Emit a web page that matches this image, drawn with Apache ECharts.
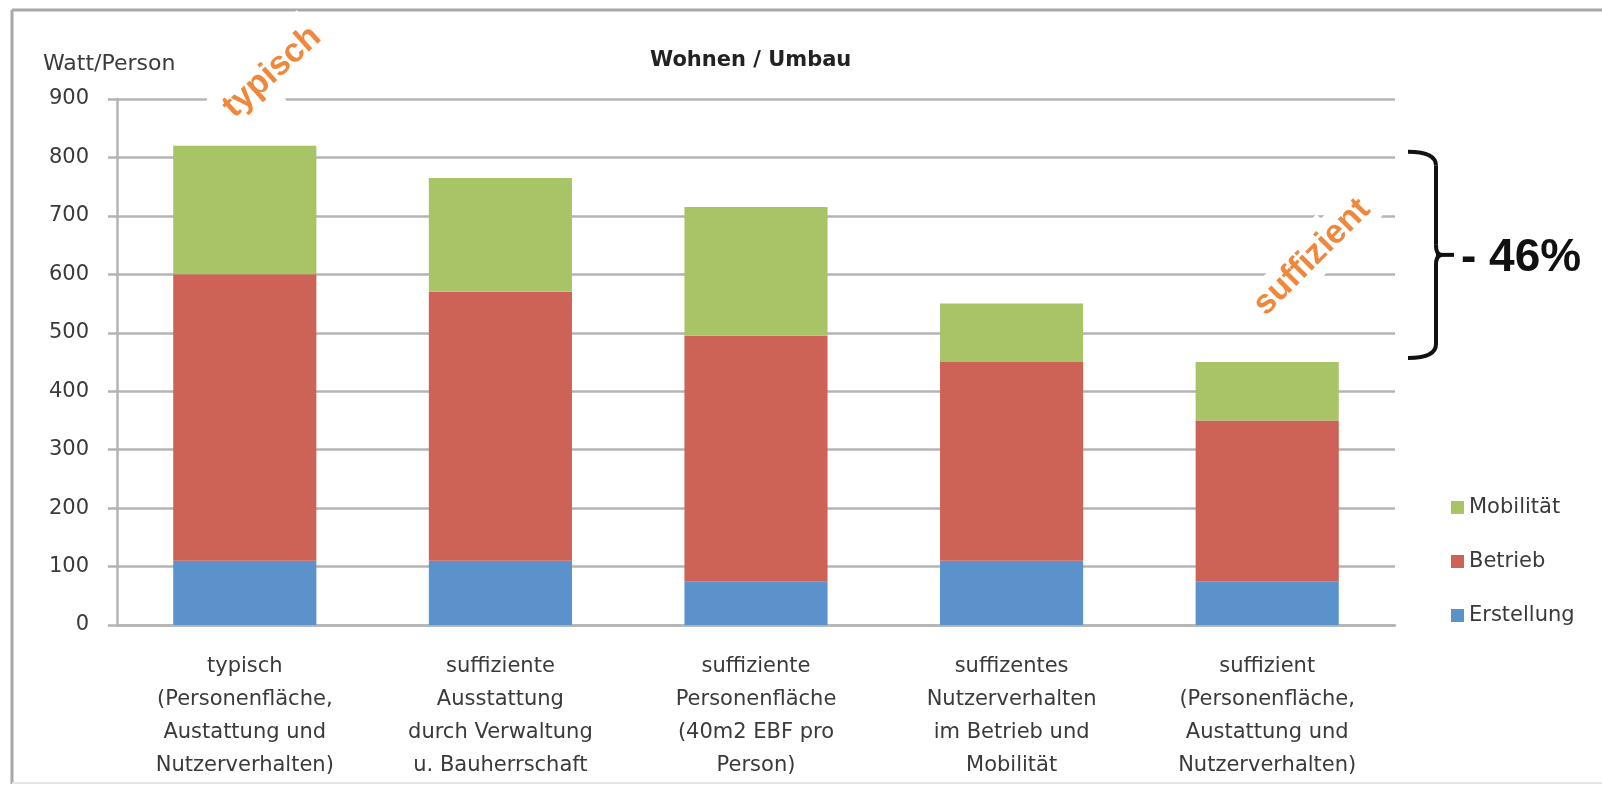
<!DOCTYPE html>
<html>
<head>
<meta charset="utf-8">
<script src="https://cdn.jsdelivr.net/npm/echarts@6/dist/echarts.min.js"></script>
<style>
  html, body { margin: 0; padding: 0; background: #fff; }
  #chart { width: 1602px; height: 785px; }
</style>
</head>
<body>
<div id="chart"></div>
<script>
// categories along the x axis
const categories = [
  'typisch\n(Personenfläche,\nAustattung und\nNutzerverhalten)',
  'suffiziente\nAusstattung\ndurch Verwaltung\nu. Bauherrschaft',
  'suffiziente\nPersonenfläche\n(40m2 EBF pro\nPerson)',
  'suffizentes\nNutzerverhalten\nim Betrieb und\nMobilität',
  'suffizient\n(Personenfläche,\nAustattung und\nNutzerverhalten)'
];
// stacked values, Watt/Person
const erstellung = [110, 110, 75, 110, 75];
const betrieb    = [490, 460, 420, 340, 275];
const mobilitaet = [220, 195, 220, 100, 100];
const yTicks = { min: 0, max: 900, interval: 100 };

const font = 'DejaVu Sans';
const textColor = '#3a3a3a';
const gridColor = '#b4b4b4';

let myChart = echarts.init(document.getElementById('chart'));

myChart.setOption({
  animation: false,
  backgroundColor: '#fff',
  title: [
    {
      text: 'Wohnen / Umbau',
      left: 645, top: 45,
      textStyle: { fontFamily: font, fontSize: 21, fontWeight: 'bold', color: '#222' }
    },
    {
      text: 'Watt/Person',
      left: 38, top: 48,
      textStyle: { fontFamily: font, fontSize: 22, fontWeight: 'normal', color: textColor }
    }
  ],
  legend: {
    orient: 'vertical',
    left: 1446, top: 492,
    itemWidth: 13, itemHeight: 13,
    itemGap: 33,
    icon: 'rect',
    data: ['Mobilität', 'Betrieb', 'Erstellung'],
    textStyle: { fontFamily: font, fontSize: 21, color: textColor, lineHeight: 21 }
  },
  grid: { left: 117, right: 207, top: 99, bottom: 160 },
  xAxis: {
    type: 'category',
    data: categories,
    axisLine: { lineStyle: { color: gridColor, width: 2.5 } },
    axisTick: { show: false },
    axisLabel: {
      interval: 0, margin: 25,
      fontFamily: font, fontSize: 21, lineHeight: 33, color: textColor, align: 'center'
    }
  },
  yAxis: {
    type: 'value',
    min: yTicks.min, max: yTicks.max, interval: yTicks.interval,
    axisLine: { show: true, lineStyle: { color: gridColor, width: 2.5 } },
    axisTick: { show: true, length: 9, lineStyle: { color: gridColor, width: 2.5 } },
    axisLabel: { margin: 28, fontFamily: font, fontSize: 21, color: textColor },
    splitLine: { lineStyle: { color: gridColor, width: 2.5 } }
  },
  color: ['#5b92cc', '#cd6257', '#a8c467'],
  series: [
    { name: 'Erstellung', type: 'bar', stack: 'total', barWidth: '56%', data: erstellung },
    { name: 'Betrieb', type: 'bar', stack: 'total', barWidth: '56%', data: betrieb },
    { name: 'Mobilität', type: 'bar', stack: 'total', barWidth: '56%', data: mobilitaet }
  ]
});

// brace from the first total down to the last total
const totals = erstellung.map((v, i) => v + betrieb[i] + mobilitaet[i]);
const yTop = myChart.convertToPixel({ yAxisIndex: 0 }, totals[0]) + 6;
const yBot = myChart.convertToPixel({ yAxisIndex: 0 }, totals[totals.length - 1]) - 4;
const yMid = (yTop + yBot) / 2;
const x0 = 1408, x1 = 1436;
const braceStyle = { stroke: '#111', lineWidth: 4, fill: null };

function curve(a, b, c) {
  return { type: 'bezierCurve', z: 100, shape: { x1: a[0], y1: a[1], cpx1: b[0], cpy1: b[1], x2: c[0], y2: c[1] }, style: braceStyle };
}
function seg(a, b) {
  return { type: 'line', z: 100, shape: { x1: a[0], y1: a[1], x2: b[0], y2: b[1] }, style: braceStyle };
}

const orange = '#f0883c';

myChart.setOption({
  graphic: [
    // frame round the chart
    { type: 'line', z: 1, shape: { x1: 12, y1: 10, x2: 1602, y2: 10 }, style: { stroke: '#a8a8a8', lineWidth: 3 } },
    { type: 'line', z: 1, shape: { x1: 12, y1: 10, x2: 12, y2: 784 }, style: { stroke: '#a8a8a8', lineWidth: 3 } },
    { type: 'line', z: 1, shape: { x1: 12, y1: 783, x2: 1602, y2: 783 }, style: { stroke: '#e6e6e6', lineWidth: 2 } },
    curve([x0, yTop], [x1, yTop], [x1, yTop + 14]),
    seg([x1, yTop + 14], [x1, yMid - 10]),
    curve([x1, yMid - 10], [x1, yMid], [x1 + 6, yMid]),
    curve([x1 + 6, yMid], [x1, yMid], [x1, yMid + 10]),
    seg([x1, yMid + 10], [x1, yBot - 14]),
    curve([x1, yBot - 14], [x1, yBot], [x0, yBot]),
    seg([x1, yMid], [x1 + 18, yMid]),
    {
      type: 'text', z: 100, x: 1461, y: yMid + 3,
      style: { text: '- 46%', font: 'bold 46px "Liberation Sans"', fill: '#111', verticalAlign: 'middle' }
    },
    {
      type: 'text', z: 100, x: 272, y: 72, rotation: 42 * Math.PI / 180,
      style: {
        text: 'typisch', font: 'bold 34px "Liberation Sans"', fill: orange,
        align: 'center', verticalAlign: 'middle',
        stroke: '#fff', lineWidth: 28
      }
    },
    {
      type: 'text', z: 100, x: 1312, y: 257, rotation: 45 * Math.PI / 180,
      style: {
        text: 'suffizient', font: 'bold 34px "Liberation Sans"', fill: orange,
        align: 'center', verticalAlign: 'middle',
        stroke: '#fff', lineWidth: 24
      }
    }
  ]
});
</script>
</body>
</html>
